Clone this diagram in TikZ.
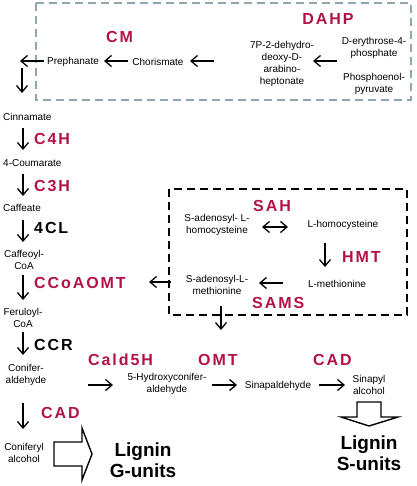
\documentclass[tikz,border=0pt]{standalone}
\usepackage{fontspec}
\setmainfont{Liberation Sans}
\newfontfamily\lblfont{Liberation Sans}[LetterSpace=12]
\usetikzlibrary{arrows.meta}
\definecolor{enz}{RGB}{178,18,72}
\definecolor{boxgray}{RGB}{143,168,176}
\begin{document}
\begin{tikzpicture}[x=1pt,y=-1pt,
  met/.style={inner sep=0pt,align=center,font=\fontsize{10}{12}\selectfont},
  metl/.style={met,anchor=west},
  enzl/.style={inner sep=0pt,anchor=west,text=enz,font=\fontsize{16}{18}\lblfont\bfseries},
  enzk/.style={enzl,text=black},
  lig/.style={inner sep=0pt,align=center,font=\fontsize{19}{21}\selectfont\bfseries},
  rx/.style={line width=1.3pt,-{Straight Barb[length=6.5pt,width=11pt]}},
  rxb/.style={line width=1.3pt,{Straight Barb[length=6.5pt,width=11pt]}-{Straight Barb[length=6.5pt,width=11pt]}},
  hollow/.style={line width=1.4pt,draw=black,fill=white,line join=miter}
]
\useasboundingbox (0,0) rectangle (416,486);
% boxes
\draw[boxgray,line width=2pt,dash pattern=on 8pt off 5pt] (36,3) rectangle (411,100);
\draw[black,line width=2.2pt,dash pattern=on 8pt off 5pt] (169,189) rectangle (407,315);

% top row
\node[met] (preph) at (73,62) {Prephanate};
\node[met] (chor) at (158,62) {Chorismate};
\node[met] (dahp7) at (282,64) {7P-2-dehydro-\\deoxy-D-\\arabino-\\heptonate};
\node[met] (eryth) at (374,48) {D-erythrose-4-\\phosphate};
\node[met] (pep) at (374,84) {Phosphoenol-\\pyruvate};
\node[enzl,anchor=center] (cm) at (119.5,37) {CM};
\node[enzl,anchor=center] (dahp) at (328,19) {DAHP};

\coordinate (a1s) at (337,61); \coordinate (a1e) at (313,61);
\coordinate (a2s) at (214,61); \coordinate (a2e) at (190,61);
\coordinate (a3s) at (128,61); \coordinate (a3e) at (104,61);
\coordinate (a4s) at (44,61);  \coordinate (a4e) at (20,61);
\coordinate (a5s) at (22,68);  \coordinate (a5e) at (22,93);
\draw[rx] (a1s) -- (a1e);
\draw[rx] (a2s) -- (a2e);
\draw[rx] (a3s) -- (a3e);
\draw[rx] (a4s) -- (a4e);
\draw[rx] (a5s) -- (a5e);

% left column
\node[metl] (cinn) at (3,117) {Cinnamate};
\node[enzl] (c4h) at (34,139) {C4H};
\node[metl] (coum) at (3,163) {4-Coumarate};
\node[enzl] (c3h) at (34,186) {C3H};
\node[metl] (caff) at (3,208) {Caffeate};
\node[enzk] (fcl) at (34,228) {4CL};
\node[met] (caffcoa) at (24,260) {Caffeoyl-\\CoA};
\node[enzl] (ccoaomt) at (34,283) {CCoAOMT};
\node[met] (ferc) at (23,318) {Feruloyl-\\CoA};
\node[enzk] (ccr) at (34,345) {CCR};
\node[met] (conald) at (26,375) {Conifer-\\aldehyde};
\node[enzl] (cadl) at (41,413) {CAD};
\node[met] (conalc) at (24,453) {Coniferyl\\alcohol};

\coordinate (b1s) at (23,128); \coordinate (b1e) at (23,150);
\coordinate (b2s) at (23,174); \coordinate (b2e) at (23,196);
\coordinate (b3s) at (23,220); \coordinate (b3e) at (23,242);
\coordinate (b4s) at (23,275); \coordinate (b4e) at (23,300);
\coordinate (b5s) at (23,332); \coordinate (b5e) at (23,355);
\coordinate (b6s) at (23,403); \coordinate (b6e) at (23,429);
\foreach \i in {1,...,6} {\draw[rx] (b\i s) -- (b\i e);}

% middle row
\node[enzl] (cald) at (88,360) {Cald5H};
\node[met] (hcald) at (167,384) {5-Hydroxyconifer-\\aldehyde};
\node[enzl] (omt) at (198,360) {OMT};
\node[met] (sinald) at (278,386) {Sinapaldehyde};
\node[enzl] (cadr) at (313,360) {CAD};
\node[met] (sinalc) at (369,385) {Sinapyl\\alcohol};
\coordinate (c1s) at (88,385);  \coordinate (c1e) at (113,385);
\coordinate (c2s) at (212,385); \coordinate (c2e) at (237,385);
\coordinate (c3s) at (319,385); \coordinate (c3e) at (345,385);
\draw[rx] (c1s) -- (c1e);
\draw[rx] (c2s) -- (c2e);
\draw[rx] (c3s) -- (c3e);

% methionine cycle box
\node[enzl] (sah) at (253,206) {SAH};
\node[met] (sahc) at (217,225) {S-adenosyl- L-\\homocysteine};
\node[met] (hcys) at (343,225) {L-homocysteine};
\node[enzl] (hmt) at (342,257) {HMT};
\node[met] (met) at (337,284) {L-methionine};
\node[met] (sam) at (217,285) {S-adenosyl-L-\\methionine};
\node[enzl] (sams) at (252,303) {SAMS};
\coordinate (d1s) at (262,227); \coordinate (d1e) at (288,227);
\coordinate (d2s) at (325,243); \coordinate (d2e) at (325,267);
\coordinate (d3s) at (283,283); \coordinate (d3e) at (259,283);
\coordinate (d4s) at (221,306); \coordinate (d4e) at (221,330);
\coordinate (d5s) at (171,282); \coordinate (d5e) at (149,282);
\draw[rxb] (d1s) -- (d1e);
\draw[rx] (d2s) -- (d2e);
\draw[rx] (d3s) -- (d3e);
\draw[rx] (d4s) -- (d4e);
\draw[rx] (d5s) -- (d5e);

% lignin
\draw[hollow] (54,442) -- (82,442) -- (82,428) -- (92,454) -- (82,480) -- (82,466) -- (54,466) -- cycle;
\node[lig] (lg) at (143,460) {Lignin\\G-units};
\draw[hollow] (357,402) -- (381,402) -- (381,417) -- (398,417) -- (369,426) -- (341,417) -- (357,417) -- cycle;
\node[lig] (ls) at (369,453) {Lignin\\S-units};
\end{tikzpicture}
\end{document}
